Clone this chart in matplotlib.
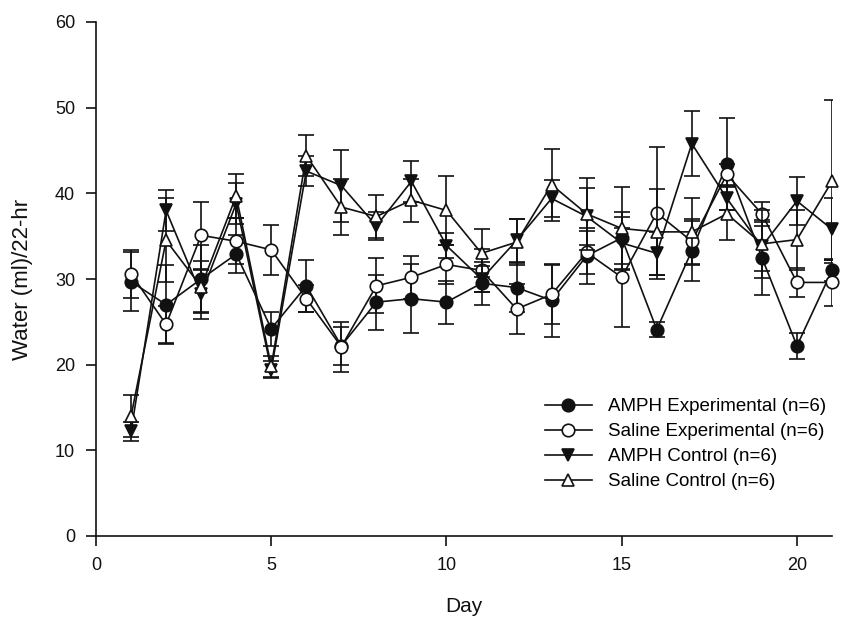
import matplotlib
matplotlib.use("Agg")
import matplotlib.pyplot as plt
from matplotlib.lines import Line2D

plt.rcParams['font.family'] = ['Liberation Sans', 'DejaVu Sans']

days = list(range(1, 22))

amph_exp = [29.7, 27.0, 30.0, 32.9, 24.2, 29.2, 22.2, 27.3, 27.7, 27.3, 29.5,
            29.0, 27.5, 32.7, 34.8, 24.1, 33.3, 43.4, 32.5, 22.2, 31.0]
amph_exp_err = [3.4, 4.6, 4.0, 2.2, 2.0, 3.0, 2.2, 3.2, 4.0, 2.5, 2.5,
                2.9, 4.3, 3.3, 3.0, 0.9, 3.5, 5.4, 4.4, 1.5, 1.2]

sal_exp = [30.6, 24.7, 35.1, 34.4, 33.4, 27.7, 22.1, 29.2, 30.2, 31.7, 31.0,
           26.5, 28.2, 33.1, 30.2, 37.7, 34.4, 42.2, 37.6, 29.6, 29.6]
sal_exp_err = [2.8, 2.2, 3.9, 2.7, 2.9, 1.6, 2.9, 3.2, 2.5, 2.3, 2.5,
               2.9, 3.4, 2.5, 5.8, 7.7, 2.6, 1.2, 1.4, 1.7, 2.7]

amph_ctl = [12.2, 38.0, 28.2, 38.8, 19.4, 42.6, 40.9, 36.2, 41.4, 33.9, 30.0,
            34.5, 39.4, 37.3, 34.2, 33.0, 45.8, 39.4, 33.8, 39.1, 35.8]
amph_ctl_err = [1.1, 2.4, 2.9, 2.4, 1.0, 1.8, 4.2, 1.6, 2.4, 1.5, 1.5,
                2.5, 2.2, 3.3, 3.0, 2.5, 3.8, 1.4, 2.9, 2.8, 3.6]

sal_ctl = [14.0, 34.5, 29.1, 39.7, 19.8, 44.4, 38.4, 37.3, 39.2, 38.0, 33.0,
           34.3, 41.0, 37.6, 35.9, 35.5, 35.5, 37.6, 34.1, 34.6, 41.4]
sal_ctl_err = [2.5, 4.9, 3.0, 2.6, 1.2, 2.4, 3.3, 2.5, 2.5, 4.0, 2.8,
               2.7, 4.2, 4.2, 4.8, 5.0, 3.9, 3.1, 4.0, 3.5, 9.5]

labels = ["AMPH Experimental (n=6)", "Saline Experimental (n=6)",
          "AMPH Control (n=6)", "Saline Control (n=6)"]

fig = plt.figure(figsize=(8.57, 6.19), dpi=100)
ax = fig.add_axes([96/857, 1-536/619, (832-96)/857, (536-22)/619])

series = [
    (amph_exp, amph_exp_err, 'o', '#111111'),
    (sal_exp, sal_exp_err, 'o', 'white'),
    (amph_ctl, amph_ctl_err, 'v', '#111111'),
    (sal_ctl, sal_ctl_err, '^', 'white'),
]

handles = []
for i, (vals, errs, mk, fc) in enumerate(series):
    ax.errorbar(days, vals, yerr=errs, fmt='none', ecolor='#111111',
                elinewidth=1.2, capsize=6, capthick=1.2, zorder=2 + i)
    ax.plot(days, vals, color='#111111', lw=1.2, marker=mk, markersize=9,
            markerfacecolor=fc, markeredgecolor='#111111', markeredgewidth=1.2,
            zorder=2.5 + i, clip_on=False)
    handles.append(Line2D([], [], color='#111111', lw=1.2, marker=mk, markersize=9,
                          markerfacecolor=fc, markeredgecolor='#111111',
                          markeredgewidth=1.2))

ax.set_xlim(0, 21)
ax.set_ylim(0, 60)
ax.set_xticks([0, 5, 10, 15, 20])
ax.set_yticks([0, 10, 20, 30, 40, 50, 60])
for s in ['top', 'right']:
    ax.spines[s].set_visible(False)
for s in ['left', 'bottom']:
    ax.spines[s].set_linewidth(1.2)
    ax.spines[s].set_color('#111111')
ax.tick_params(direction='out', length=7, width=1.2, labelsize=13, colors='#111111',
               pad=8)

ax.set_xlabel("Day", fontsize=15, color='#111111', labelpad=17)
ax.set_ylabel("Water (ml)/22-hr", fontsize=16, color='#111111', labelpad=16)

leg = fig.legend(handles, labels, loc='upper left',
                 bbox_to_anchor=(545/857, 1-398/619), frameon=False,
                 fontsize=13.5, handlelength=2.5, handletextpad=0.85,
                 labelspacing=0.42, borderpad=0, borderaxespad=0)

fig.savefig("out.png", dpi=100)
